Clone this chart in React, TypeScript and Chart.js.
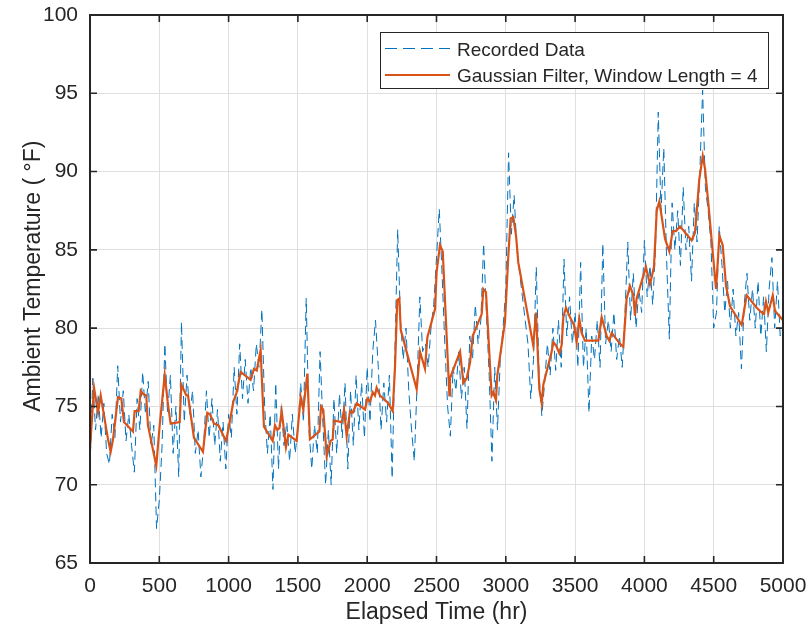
import React, { useEffect, useRef } from "react";
import { Chart, registerables } from "chart.js";

Chart.register(...registerables);

const FONT = '"Liberation Sans", Arial, Helvetica, sans-serif';
const TEXT = "#262626";
const BLUE = "#0072BD";
const ORANGE = "#D95319";
const GRID = "#DFDFDF";

const xTickValues = [0, 500, 1000, 1500, 2000, 2500, 3000, 3500, 4000, 4500, 5000];
const yTickValues = [65, 70, 75, 80, 85, 90, 95, 100];

const xTitle = "Elapsed Time (hr)";
const yTitle = "    Ambient Temperature ( °F)";
const recordedLabel = "Recorded Data";
const filteredLabel = "Gaussian Filter, Window Length = 4";

// Recorded data: elapsed time (hr)
const recordedTime = [
  0, 20, 40, 60, 80, 100, 120, 140, 160, 180,
  200, 220, 240, 260, 280, 300, 320, 340, 360, 380,
  400, 420, 440, 460, 480, 500, 520, 540, 560, 580,
  600, 620, 640, 660, 680, 700, 720, 740, 760, 780,
  800, 820, 840, 860, 880, 900, 920, 940, 960, 980,
  1000, 1020, 1040, 1060, 1080, 1100, 1120, 1140, 1160, 1180,
  1200, 1220, 1240, 1260, 1280, 1300, 1320, 1340, 1360, 1380,
  1400, 1420, 1440, 1460, 1480, 1500, 1520, 1540, 1560, 1580,
  1600, 1620, 1640, 1660, 1680, 1700, 1720, 1740, 1760, 1780,
  1800, 1820, 1840, 1860, 1880, 1900, 1920, 1940, 1960, 1980,
  2000, 2020, 2040, 2060, 2080, 2100, 2120, 2140, 2160, 2180,
  2200, 2220, 2240, 2260, 2280, 2300, 2320, 2340, 2360, 2380,
  2400, 2420, 2440, 2460, 2480, 2500, 2520, 2540, 2560, 2580,
  2600, 2620, 2640, 2660, 2680, 2700, 2720, 2740, 2760, 2780,
  2800, 2820, 2840, 2860, 2880, 2900, 2920, 2940, 2960, 2980,
  3000, 3020, 3040, 3060, 3080, 3100, 3120, 3140, 3160, 3180,
  3200, 3220, 3240, 3260, 3280, 3300, 3320, 3340, 3360, 3380,
  3400, 3420, 3440, 3460, 3480, 3500, 3520, 3540, 3560, 3580,
  3600, 3620, 3640, 3660, 3680, 3700, 3720, 3740, 3760, 3780,
  3800, 3820, 3840, 3860, 3880, 3900, 3920, 3940, 3960, 3980,
  4000, 4020, 4040, 4060, 4080, 4100, 4120, 4140, 4160, 4180,
  4200, 4220, 4240, 4260, 4280, 4300, 4320, 4340, 4360, 4380,
  4400, 4420, 4440, 4460, 4480, 4500, 4520, 4540, 4560, 4580,
  4600, 4620, 4640, 4660, 4680, 4700, 4720, 4740, 4760, 4780,
  4800, 4820, 4840, 4860, 4880, 4900, 4920, 4940, 4960, 4980,
  5000,
];

// Recorded data: temperature (°F)
const recordedTemp = [
  71.0, 76.8, 73.5, 75.8, 73.0, 75.2, 72.0, 71.3, 74.5, 73.0,
  77.6, 74.0, 76.0, 72.8, 74.5, 72.5, 70.8, 75.5, 73.5, 77.2,
  74.5, 76.6, 72.5, 73.8, 67.2, 69.0, 72.5, 79.0, 74.5, 77.0,
  72.0, 75.0, 70.5, 80.4, 74.0, 77.0, 74.5, 76.0, 72.0, 73.5,
  70.5, 72.5, 76.0, 73.0, 75.5, 72.5, 74.8, 71.5, 74.0, 71.0,
  74.5, 73.0, 77.5, 74.5, 79.0, 75.5, 78.0, 75.2, 77.5, 76.0,
  79.0, 77.5, 81.2, 75.0, 72.0, 74.5, 69.7, 76.5, 71.0, 75.0,
  72.5, 74.0, 71.5, 74.5, 72.0, 73.5, 76.5, 74.0, 81.9, 73.5,
  71.0, 73.8, 72.0, 78.5, 74.0, 70.0, 73.5, 70.0, 75.5, 72.0,
  75.8, 73.0, 76.5, 71.0, 76.0, 72.5, 77.0, 73.5, 76.5, 73.0,
  77.5, 74.0, 78.5, 80.5, 77.5, 73.5, 76.5, 74.0, 77.0, 70.4,
  78.5, 86.3, 80.5, 78.0, 80.0, 76.0, 73.5, 71.5, 76.5, 82.0,
  78.5, 79.0, 77.5, 80.0, 81.5, 84.5, 87.6, 83.5, 79.0, 75.0,
  73.1, 77.5, 76.0, 78.5, 75.5, 77.5, 73.6, 79.5, 78.0, 81.5,
  79.0, 80.5, 85.4, 81.0, 77.0, 71.5, 77.5, 73.5, 78.0, 80.0,
  82.5, 91.2, 86.0, 88.5, 85.0, 83.5, 82.0, 80.5, 79.0, 75.5,
  78.0, 83.9, 77.0, 74.4, 76.5, 79.0, 77.0, 80.0, 77.3, 80.5,
  77.5, 84.4, 79.5, 82.0, 79.0, 81.0, 77.5, 84.2, 77.5, 80.0,
  74.6, 79.5, 78.0, 80.5, 77.5, 85.4, 79.0, 80.5, 78.5, 81.0,
  78.0, 79.5, 77.5, 81.0, 85.5, 80.5, 83.5, 80.0, 82.5, 81.0,
  85.6, 82.0, 84.0, 81.5, 85.0, 93.8, 87.5, 91.5, 84.5, 79.3,
  88.0, 85.0, 87.5, 84.0, 89.0, 85.0, 86.5, 83.0, 88.0, 85.5,
  90.0, 95.2, 89.0, 87.5, 85.5, 80.0, 81.0, 86.5, 84.0, 81.0,
  83.0, 80.0, 82.5, 79.5, 81.0, 77.4, 81.5, 83.5, 80.5, 82.5,
  80.0, 83.0, 79.5, 82.0, 78.5, 82.5, 84.5, 80.0, 83.0, 79.5,
  80.0,
];

// Gaussian-filtered series: elapsed time (hr)
const filteredTime = [
  0, 29, 58, 77, 130, 149, 166, 202, 226, 245, 310, 322, 351, 366, 382, 406, 418, 478, 503, 539,
  563, 582, 647, 659, 695, 707, 750, 815, 846, 866, 895, 926, 981, 998, 1034, 1058, 1087, 1159, 1183, 1203,
  1231, 1255, 1318, 1335, 1351, 1366, 1383, 1414, 1431, 1491, 1520, 1539, 1568, 1587, 1655, 1667, 1683, 1708, 1736, 1751,
  1760, 1816, 1833, 1852, 1876, 1895, 1924, 1984, 2001, 2020, 2040, 2056, 2068, 2092, 2152, 2184, 2200, 2217, 2232, 2242,
  2357, 2381, 2417, 2434, 2489, 2501, 2525, 2545, 2593, 2597, 2670, 2694, 2718, 2742, 2761, 2826, 2838, 2857, 2898, 2910,
  2929, 2939, 2994, 3018, 3035, 3054, 3074, 3090, 3198, 3218, 3242, 3259, 3271, 3331, 3343, 3362, 3386, 3403, 3415, 3434,
  3463, 3492, 3511, 3530, 3547, 3571, 3668, 3692, 3728, 3747, 3764, 3824, 3848, 3872, 3896, 3920, 3932, 3944, 4011, 4040,
  4069, 4089, 4108, 4149, 4180, 4204, 4228, 4257, 4341, 4365, 4396, 4421, 4437, 4461, 4517, 4541, 4565, 4589, 4618, 4702,
  4738, 4810, 4846, 4863, 4877, 4894, 4926, 4942, 5000,
];

// Gaussian-filtered series: temperature (°F)
const filteredTemp = [
  72.3, 76.2, 74.6, 75.7, 72.9, 72.1, 72.9, 75.6, 75.5, 74.0, 73.4, 74.7, 74.7, 76.0, 75.8, 75.7, 73.8, 71.2, 73.8, 77.0,
  75.1, 73.9, 74.0, 76.4, 75.7, 75.7, 73.0, 72.1, 74.6, 74.5, 73.9, 73.8, 72.8, 73.5, 75.3, 75.9, 77.2, 76.7, 77.4, 77.3,
  78.6, 73.7, 72.8, 73.8, 73.5, 73.6, 74.7, 72.4, 73.2, 72.8, 75.6, 74.8, 77.1, 72.9, 73.4, 75.0, 74.8, 71.8, 72.8, 72.9,
  74.1, 74.0, 74.8, 73.1, 74.7, 74.6, 75.2, 74.8, 75.5, 75.3, 75.9, 75.7, 76.2, 75.7, 75.2, 74.7, 77.4, 81.8, 81.9, 79.9,
  76.1, 78.5, 77.4, 79.4, 81.2, 83.6, 85.3, 84.9, 75.7, 76.8, 78.5, 76.5, 76.8, 77.8, 79.5, 80.9, 82.5, 82.3, 75.7, 75.9,
  75.4, 77.0, 80.4, 84.6, 87.0, 87.1, 85.9, 84.2, 78.9, 81.0, 76.1, 75.2, 76.4, 78.5, 79.1, 78.9, 78.4, 78.9, 80.7, 81.3,
  80.7, 80.2, 79.1, 80.6, 79.7, 79.2, 79.2, 80.7, 79.5, 79.2, 79.7, 79.0, 78.8, 81.9, 82.7, 82.1, 80.8, 81.9, 83.9, 82.8,
  83.9, 87.5, 88.1, 85.7, 84.9, 86.2, 86.2, 86.5, 85.6, 86.1, 89.5, 91.0, 90.2, 88.0, 82.5, 85.9, 85.3, 82.7, 81.4, 80.2,
  82.1, 81.3, 81.0, 80.9, 81.7, 81.0, 82.1, 81.1, 80.5,
];

const framePlugin = {
  id: "matlabFrame",
  afterDatasetsDraw(chart: any) {
    const { ctx, chartArea, scales } = chart;
    const { left, right, top, bottom } = chartArea;
    const tickLen = 7;
    ctx.save();
    ctx.strokeStyle = TEXT;
    ctx.lineWidth = 1.6;
    ctx.beginPath();
    for (const v of xTickValues) {
      const px = scales.x.getPixelForValue(v);
      ctx.moveTo(px, bottom);
      ctx.lineTo(px, bottom - tickLen);
      ctx.moveTo(px, top);
      ctx.lineTo(px, top + tickLen);
    }
    for (const v of yTickValues) {
      const py = scales.y.getPixelForValue(v);
      ctx.moveTo(left, py);
      ctx.lineTo(left + tickLen, py);
      ctx.moveTo(right, py);
      ctx.lineTo(right - tickLen, py);
    }
    ctx.stroke();
    ctx.lineWidth = 2;
    ctx.strokeRect(left, top, right - left, bottom - top);
    ctx.restore();
  },
};

const legendPlugin = {
  id: "boxLegend",
  afterDraw(chart: any) {
    const { ctx } = chart;
    const ds = chart.data.datasets;
    const bx = 380;
    const by = 32;
    const bw = 388;
    const bh = 56;
    ctx.save();
    ctx.fillStyle = "#ffffff";
    ctx.fillRect(bx, by, bw, bh);
    ctx.strokeStyle = TEXT;
    ctx.lineWidth = 1;
    ctx.strokeRect(bx + 0.5, by + 0.5, bw, bh);

    const lineX0 = 385;
    const lineX1 = 450;
    const textX = 457;
    const rows = [
      { y: 48.5, textY: 55.5 },
      { y: 75, textY: 82 },
    ];
    ds.forEach((d: any, i: number) => {
      const r = rows[i];
      ctx.strokeStyle = d.borderColor;
      ctx.lineWidth = d.borderWidth;
      ctx.setLineDash(d.borderDash ? [12, 6] : []);
      ctx.beginPath();
      ctx.moveTo(lineX0, r.y);
      ctx.lineTo(lineX1, r.y);
      ctx.stroke();
      ctx.setLineDash([]);
      ctx.fillStyle = TEXT;
      ctx.font = `19px ${FONT}`;
      ctx.textAlign = "left";
      ctx.textBaseline = "alphabetic";
      ctx.fillText(d.label, textX, r.textY);
    });
    ctx.restore();
  },
};

export default function App() {
  const ref = useRef<HTMLCanvasElement>(null);

  useEffect(() => {
    const canvas = ref.current;
    if (!canvas) return;
    const recorded = recordedTime.map((t, i) => ({ x: t, y: recordedTemp[i] }));
    const filtered = filteredTime.map((t, i) => ({ x: t, y: filteredTemp[i] }));

    const chart = new Chart(canvas, {
      type: "line",
      data: {
        datasets: [
          {
            label: recordedLabel,
            data: recorded,
            borderColor: BLUE,
            borderWidth: 1,
            borderDash: [9, 5],
            pointRadius: 0,
            tension: 0,
            fill: false,
            order: 2,
          },
          {
            label: filteredLabel,
            data: filtered,
            borderColor: ORANGE,
            borderWidth: 2.2,
            pointRadius: 0,
            tension: 0,
            fill: false,
            order: 1,
          },
        ],
      },
      options: {
        animation: false,
        responsive: false,
        devicePixelRatio: 1,
        layout: { padding: { top: 15, right: 25, left: 0, bottom: 0 } },
        plugins: {
          legend: { display: false },
          tooltip: { enabled: false },
        },
        scales: {
          x: {
            type: "linear",
            min: 0,
            max: 5000,
            afterBuildTicks: (s: any) => {
              s.ticks = xTickValues.map((v) => ({ value: v }));
            },
            afterFit: (s: any) => {
              s.height = 69;
              s.paddingLeft = 0;
              s.paddingRight = 0;
            },
            grid: { color: GRID, lineWidth: 1, drawTicks: false },
            border: { display: false },
            ticks: {
              color: TEXT,
              font: { family: FONT, size: 21 },
              padding: 11,
              maxRotation: 0,
              autoSkip: false,
              callback: (v: any) => String(v),
            },
            title: {
              display: true,
              text: xTitle,
              color: TEXT,
              font: { family: FONT, size: 23 },
              padding: { top: 0, bottom: 6 },
            },
          },
          y: {
            type: "linear",
            min: 65,
            max: 100,
            afterBuildTicks: (s: any) => {
              s.ticks = yTickValues.map((v) => ({ value: v }));
            },
            afterFit: (s: any) => {
              s.width = 90;
              s.paddingTop = 0;
              s.paddingBottom = 0;
            },
            grid: { color: GRID, lineWidth: 1, drawTicks: false },
            border: { display: false },
            ticks: {
              color: TEXT,
              font: { family: FONT, size: 21 },
              padding: 12,
              autoSkip: false,
              callback: (v: any) => String(v),
            },
            title: {
              display: true,
              text: yTitle,
              color: TEXT,
              font: { family: FONT, size: 23 },
              padding: { top: 20, bottom: 0 },
            },
          },
        },
      },
      plugins: [framePlugin, legendPlugin],
    });

    return () => chart.destroy();
  }, []);

  return (
    <div style={{ position: "absolute", left: 0, top: 0, width: 808, height: 632, background: "#ffffff" }}>
      <canvas ref={ref} width={808} height={632} style={{ display: "block" }} />
    </div>
  );
}
